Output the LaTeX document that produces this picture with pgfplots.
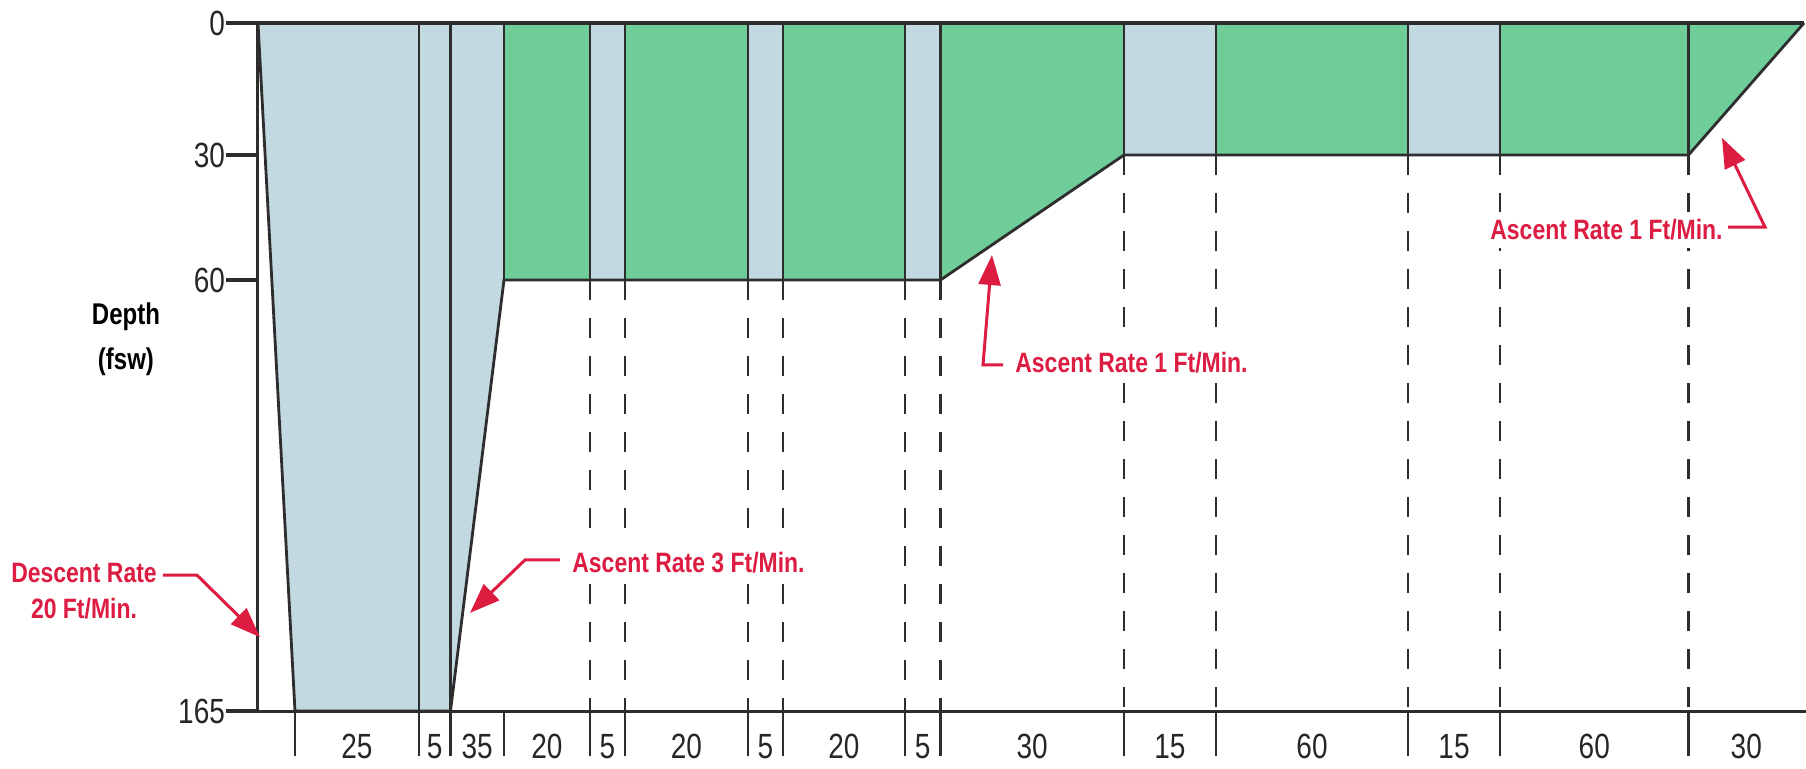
\documentclass[border=0pt]{standalone}
\usepackage{pgfplots}
\pgfplotsset{compat=1.18}
\usepackage{fontspec}
\setmainfont{Liberation Sans}
\newfontfamily\numfont{Liberation Sans}[FakeStretch=0.8]
\newfontfamily\annfont{Liberation Sans}[FakeStretch=0.82]
\usetikzlibrary{arrows.meta}
\definecolor{airblue}{RGB}{195,217,225}
\definecolor{oxgreen}{RGB}{111,205,153}
\definecolor{annred}{RGB}{221,28,66}
\definecolor{edgegray}{RGB}{45,45,45}
\begin{document}
\begin{tikzpicture}
\begin{axis}[
  scale only axis,
  width=774pt, height=344pt,
  xmin=258, xmax=1806, ymin=0, ymax=165,
  y dir=reverse,
  y coord trafo/.code={\pgfmathparse{(#1<=30) ? (4.4*#1) : ((#1<=60) ? (132+4.16667*(#1-30)) : (257+4.10476*(#1-60)))}},
  y coord inv trafo/.code={\pgfmathparse{(#1<=132) ? (#1/4.4) : ((#1<=257) ? (30+(#1-132)/4.16667) : (60+(#1-257)/4.10476))}},
  clip=false,
  axis x line*=bottom, axis y line*=left,
  axis line style={edgegray, line width=1.5pt},
  xtick={295,419,450.5,504,590,625,748,783,905,940.5,1124,1216,1408,1500,1688.5},
  xticklabels={},
  xtick align=outside,
  major tick length=22.5pt,
  tick style={edgegray, line width=1.4pt},
  ytick=\empty,
  extra y ticks={0,30,60,165},
  extra y tick labels={0,30,60,165},
  extra y tick style={major tick length=16pt, ytick align=outside, tick style={edgegray, line width=2pt}, yticklabel style={xshift=3pt}},
  yticklabel style={font=\numfont\fontsize{17.5}{20}\selectfont, text=black!85},
  extra x ticks={357,434.75,477.25,547,607.5,686.5,765.5,844,922.75,1032.25,1170,1312,1454,1594.25,1746.25},
  extra x tick labels={25,5,35,20,5,20,5,20,5,30,15,60,15,60,30},
  extra x tick style={major tick length=0pt, xticklabel style={yshift=-8pt}},
  xticklabel style={font=\numfont\fontsize{17.5}{20}\selectfont, text=black!85},
]
% dashed guide lines below the profile
\pgfplotsset{guide/.style={edgegray, line width=1.3pt, dash pattern=on 10pt off 9pt}}
\addplot[guide] coordinates {(590,60) (590,165)};
\addplot[guide] coordinates {(625,60) (625,165)};
\addplot[guide] coordinates {(748,60) (748,165)};
\addplot[guide] coordinates {(783,60) (783,165)};
\addplot[guide] coordinates {(905,60) (905,165)};
\addplot[guide] coordinates {(940.5,60) (940.5,165)};
\addplot[guide] coordinates {(1124,30) (1124,165)};
\addplot[guide] coordinates {(1216,30) (1216,165)};
\addplot[guide] coordinates {(1408,30) (1408,165)};
\addplot[guide] coordinates {(1500,30) (1500,165)};
\addplot[guide] coordinates {(1688.5,30) (1688.5,165)};
% air (blue) periods
\addplot[draw=none, fill=airblue] coordinates {(258,0) (295,165) (450.5,165) (504,60)} \closedcycle;
\addplot[draw=none, fill=airblue] coordinates {(590,60) (625,60)} \closedcycle;
\addplot[draw=none, fill=airblue] coordinates {(748,60) (783,60)} \closedcycle;
\addplot[draw=none, fill=airblue] coordinates {(905,60) (940.5,60)} \closedcycle;
\addplot[draw=none, fill=airblue] coordinates {(1124,30) (1216,30)} \closedcycle;
\addplot[draw=none, fill=airblue] coordinates {(1408,30) (1500,30)} \closedcycle;
% oxygen (green) periods
\addplot[draw=none, fill=oxgreen] coordinates {(504,60) (590,60)} \closedcycle;
\addplot[draw=none, fill=oxgreen] coordinates {(625,60) (748,60)} \closedcycle;
\addplot[draw=none, fill=oxgreen] coordinates {(783,60) (905,60)} \closedcycle;
\addplot[draw=none, fill=oxgreen] coordinates {(940.5,60) (1124,30)} \closedcycle;
\addplot[draw=none, fill=oxgreen] coordinates {(1216,30) (1408,30)} \closedcycle;
\addplot[draw=none, fill=oxgreen] coordinates {(1500,30) (1688.5,30)} \closedcycle;
\addplot[draw=none, fill=oxgreen] coordinates {(1688.5,30) (1804,0)} \closedcycle;
% period boundaries
\addplot[ycomb, edgegray, line width=1.2pt] coordinates {
 (419,165) (450.5,165) (504,60) (590,60) (625,60) (748,60) (783,60) (905,60) (940.5,60)
 (1124,30) (1216,30) (1408,30) (1500,30) (1688.5,30)};
% surface line and depth profile
\addplot[edgegray, line width=1.8pt] coordinates {(258,0) (1804,0)};
\addplot[edgegray, line width=1.4pt] coordinates {(258,0) (295,165) (450.5,165) (504,60) (940.5,60) (1124,30) (1688.5,30) (1804,0)};
\coordinate (BL) at (axis cs:258,165);
% labels and annotations
\node[black, font=\numfont\bfseries\fontsize{15}{22.5}\selectfont, align=center, inner sep=0pt] at (axis cs:126,74.4) {Depth\\(fsw)};
\tikzset{ann/.style={annred, font=\annfont\bfseries\fontsize{14}{18}\selectfont, fill=white, inner xsep=3pt, inner ysep=4pt},
         annarrow/.style={annred, line width=1.5pt, -{Triangle[length=15pt,width=11pt]}}}
\node[ann, align=center, inner sep=0pt] at (axis cs:84,135.8) {Descent Rate\\20 Ft/Min.};
\draw[annarrow] (axis cs:163,131.9) -- (axis cs:197,131.9) -- (axis cs:260,147.0);
\node[ann, anchor=west] at (axis cs:566,128.9) {Ascent Rate 3 Ft/Min.};
\draw[annarrow] (axis cs:560,128.2) -- (axis cs:525,128.2) -- (axis cs:470,141.1);
\node[ann, anchor=west] at (axis cs:1009,80.2) {Ascent Rate 1 Ft/Min.};
\draw[annarrow] (axis cs:1003,80.7) -- (axis cs:983,80.7) -- (axis cs:992,54.0);
\node[ann, anchor=west] at (axis cs:1484,48.0) {Ascent Rate 1 Ft/Min.};
\draw[annarrow] (axis cs:1728,47.3) -- (axis cs:1765,47.3) -- (axis cs:1722,26.1);
\end{axis}
\pgfresetboundingbox
\path[use as bounding box] (BL) ++(-129pt,-28.5pt) rectangle ++(903pt,384pt);
\end{tikzpicture}
\end{document}
